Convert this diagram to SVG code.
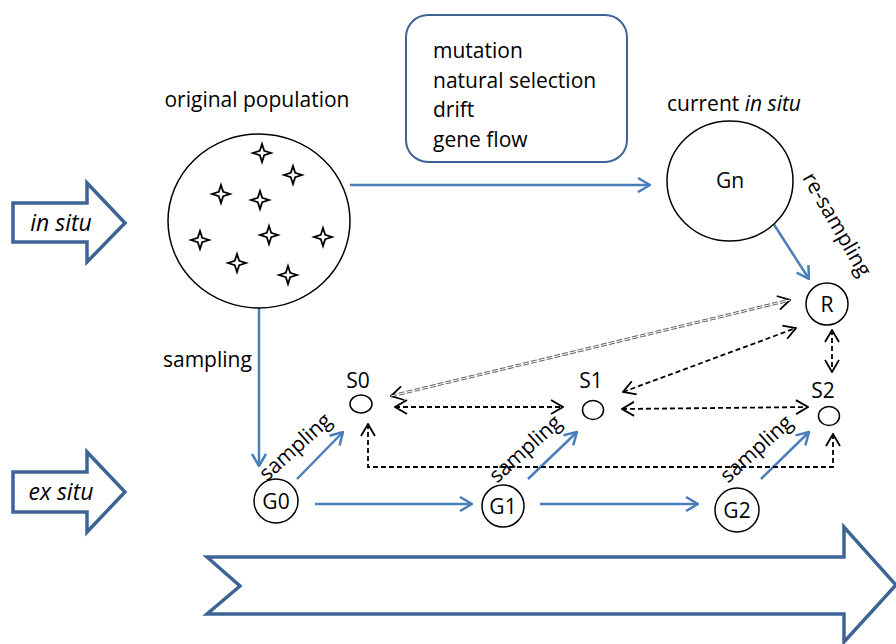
<svg xmlns="http://www.w3.org/2000/svg" width="896" height="644" viewBox="0 0 896 644">
<style>
text{font-family:"Open Sans","Liberation Sans",sans-serif;fill:#000}
.lbl{font-size:21px}
.big{stroke:#3e6496;stroke-width:3.5;fill:#fff;stroke-linejoin:miter}
.node{fill:#fff;stroke:#000;stroke-width:1.5}
.blue{stroke:#4a7ebb;stroke-width:2.5;fill:none;marker-end:url(#ba)}
.dash{stroke:#000;stroke-width:1.8;fill:none;stroke-dasharray:5 3;marker-start:url(#ka);marker-end:url(#ka)}
.star{fill:#fff;stroke:#000;stroke-width:1.8;stroke-linejoin:miter}
</style>
<defs>
<marker id="ba" viewBox="0 0 14 16" refX="13" refY="8" markerWidth="14" markerHeight="16" markerUnits="userSpaceOnUse" orient="auto">
<path d="M1,1 L13,8 L1,15" fill="none" stroke="#4a7ebb" stroke-width="2.5"/>
</marker>
<marker id="ka" viewBox="0 0 14 16" refX="13" refY="8" markerWidth="14" markerHeight="16" markerUnits="userSpaceOnUse" orient="auto-start-reverse">
<path d="M1,1 L13,8 L1,15" fill="none" stroke="#000" stroke-width="1.8"/>
</marker>
<path id="st" d="M0,-9 L2.2,-2.2 L9,0 L2.2,2.2 L0,9 L-2.2,2.2 L-9,0 L-2.2,-2.2 Z"/>
</defs>

<!-- big arrows -->
<g id="insitu-arrow">
<path class="big" d="M13,203 H87 V183 L125,223 L87,262 V242 H13 Z"/>
<text x="61" y="231" font-size="23" font-style="italic" text-anchor="middle">in situ</text>
</g>
<g id="exsitu-arrow">
<path class="big" d="M13,472 H87 V452 L125,492 L87,532 V512 H13 Z"/>
<text x="61" y="500" font-size="23" font-style="italic" text-anchor="middle">ex situ</text>
</g>
<g id="time-arrow">
<path class="big" d="M207,557 H844 V527 L896,585 L844,642 V614 H207 L240,586 Z"/>
</g>

<!-- factors box -->
<g id="factors">
<rect x="406" y="15" width="221" height="147" rx="22" fill="#fff" stroke="#3e6496" stroke-width="2"/>
<text x="433" y="58" class="lbl">mutation</text>
<text x="433" y="88" class="lbl">natural selection</text>
<text x="433" y="117" class="lbl">drift</text>
<text x="433" y="147" class="lbl">gene flow</text>
</g>

<!-- connectors -->
<g id="connectors">
<line class="blue" x1="350" y1="185" x2="650" y2="185"/>
<line class="blue" x1="773" y1="223" x2="809" y2="279"/>
<line class="blue" x1="259" y1="308" x2="259" y2="466"/>
<line class="blue" x1="297" y1="479" x2="343" y2="432"/>
<line class="blue" x1="315" y1="504" x2="472" y2="504"/>
<line class="blue" x1="528" y1="479" x2="577" y2="432"/>
<line class="blue" x1="540" y1="504" x2="698" y2="504"/>
<line class="blue" x1="761" y1="479" x2="809" y2="432"/>
<line x1="391" y1="396" x2="790" y2="300" stroke="#666" stroke-width="3" stroke-dasharray="6 2" marker-start="url(#ka)" marker-end="url(#ka)"/>
<line x1="391" y1="396" x2="790" y2="300" stroke="#fff" stroke-width="1"/>
<line class="dash" x1="395" y1="407" x2="563" y2="407"/>
<line class="dash" x1="622" y1="409" x2="808" y2="407"/>
<line class="dash" x1="623" y1="392" x2="796" y2="328"/>
<line class="dash" x1="832" y1="330" x2="832" y2="372"/>
<path class="dash" d="M368,424 V467 H833 V434"/>
</g>

<!-- labels on connectors -->
<g id="connector-labels">
<text x="163" y="367" class="lbl">sampling</text>
<text class="lbl" text-anchor="middle" transform="translate(300,452) rotate(-42)">sampling</text>
<text class="lbl" text-anchor="middle" transform="translate(530,454) rotate(-42)">sampling</text>
<text class="lbl" text-anchor="middle" transform="translate(761,454) rotate(-42)">sampling</text>
<text class="lbl" text-anchor="middle" transform="translate(831,228) rotate(60)">re-sampling</text>
</g>

<!-- nodes -->
<g id="original-population">
<text x="257" y="107" class="lbl" text-anchor="middle">original population</text>
<ellipse class="node" cx="259" cy="221" rx="91" ry="87"/>
<use href="#st" class="star" x="262" y="153"/>
<use href="#st" class="star" x="293" y="175"/>
<use href="#st" class="star" x="221" y="194"/>
<use href="#st" class="star" x="260" y="200"/>
<use href="#st" class="star" x="200" y="240"/>
<use href="#st" class="star" x="269" y="235"/>
<use href="#st" class="star" x="323" y="237"/>
<use href="#st" class="star" x="237" y="263"/>
<use href="#st" class="star" x="288" y="275"/>
</g>
<g id="Gn">
<text x="734" y="111" class="lbl" text-anchor="middle">current <tspan font-style="italic">in situ</tspan></text>
<ellipse class="node" cx="730" cy="181" rx="63" ry="60"/>
<text x="730" y="188" class="lbl" text-anchor="middle">Gn</text>
</g>
<g id="R">
<circle class="node" cx="827" cy="304" r="21"/>
<text x="827" y="312" class="lbl" text-anchor="middle">R</text>
</g>
<g id="S0">
<text x="358" y="388" class="lbl" text-anchor="middle">S0</text>
<ellipse class="node" cx="361" cy="404" rx="11" ry="9"/>
</g>
<g id="S1">
<text x="591" y="388" class="lbl" text-anchor="middle">S1</text>
<ellipse class="node" cx="593" cy="410" rx="10.5" ry="9.5"/>
</g>
<g id="S2">
<text x="823" y="398" class="lbl" text-anchor="middle">S2</text>
<ellipse class="node" cx="829" cy="416" rx="10.5" ry="9.5"/>
</g>
<g id="G0">
<circle class="node" cx="276" cy="501" r="22"/>
<text x="276" y="509" class="lbl" text-anchor="middle">G0</text>
</g>
<g id="G1">
<circle class="node" cx="503" cy="506" r="21"/>
<text x="503" y="514" class="lbl" text-anchor="middle">G1</text>
</g>
<g id="G2">
<circle class="node" cx="737" cy="510" r="22"/>
<text x="737" y="518" class="lbl" text-anchor="middle">G2</text>
</g>
</svg>
